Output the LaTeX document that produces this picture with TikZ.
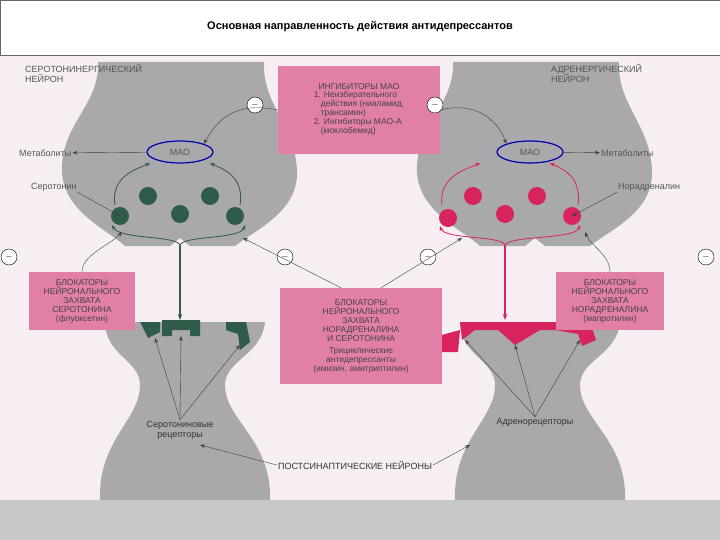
\documentclass[tikz,border=0pt]{standalone}
\usepackage{fontspec}
\setmainfont{Liberation Sans}
\usetikzlibrary{arrows.meta,shapes.geometric}
\definecolor{bg}{HTML}{F6EEF3}
\definecolor{neu}{HTML}{A9A9AB}
\definecolor{boxc}{HTML}{E27FA6}
\definecolor{grn}{HTML}{2F5B49}
\definecolor{pnk}{HTML}{D8245C}
\definecolor{lab}{HTML}{555555}
\tikzset{
 lbl/.style={font=\fontsize{9}{10}\selectfont, text=lab, align=center, inner sep=1pt},
 pbox/.style={fill=boxc, font=\fontsize{8.5}{9}\selectfont, text=lab!80!black, align=center, inner sep=3pt},
 minus/.style={circle, draw=black, fill=white, minimum size=16pt, inner sep=0pt, font=\small},
 ar/.style={-{Stealth[length=5pt]}, thin, black!75},
 mao/.style={ellipse, draw=blue!70!black, very thick, minimum width=66pt, minimum height=22pt, font=\fontsize{9}{10}\selectfont, text=lab},
}
\begin{document}
\begin{tikzpicture}[x=1pt,y=-1pt]
\useasboundingbox (0,0) rectangle (720,540);
\fill[bg] (0,0) rectangle (720,540);
\fill[black!22] (0,500) rectangle (720,540);
\draw[fill=white, draw=black!60] (0,0) rectangle (720,55);
\node[font=\bfseries\fontsize{11}{12}\selectfont] (title) at (360,27) {Основная направленность действия антидепрессантов};
\foreach \dx in {0,355}{
\begin{scope}[xshift=\dx]
\fill[neu] (98,62) .. controls (100,105) and (60,125) .. (62,172) .. controls (64,212) and (108,230) .. (125,246) -- (170,246) -- (180,238) -- (190,246) -- (235,246) .. controls (255,230) and (298,212) .. (297,172) .. controls (296,125) and (262,105) .. (264,62) -- cycle;
\fill[neu] (105,322) -- (265,322) .. controls (262,355) and (225,360) .. (225,385) .. controls (225,420) and (272,440) .. (270,500) -- (100,500) .. controls (98,440) and (140,420) .. (140,385) .. controls (140,360) and (105,355) .. (105,322) -- cycle;
\end{scope}}
% receptors left
\fill[grn] (140,322) -- (160,322) -- (160,332) -- (148,338) -- cycle;
\fill[grn] (162,320) -- (200,320) -- (200,336) -- (190,336) -- (190,330) -- (172,330) -- (172,336) -- (162,336) -- cycle;
\fill[grn] (226,322) -- (246,322) -- (250,342) -- (240,350) -- (238,334) -- (226,330) -- cycle;
% receptors right
\fill[pnk] (460,322) -- (590,322) -- (596,340) -- (582,346) -- (578,334) -- (555,330) -- (540,330) -- (515,345) -- (498,330) -- (475,330) -- (462,340) -- cycle;
\fill[pnk] (438,336) -- (460,330) -- (458,352) -- (440,352) -- cycle;
\node[mao] (maoL) at (180,152) {МАО};
\node[mao] (maoR) at (530,152) {МАО};
\foreach \n/\x/\y in {a/148/196,b/210/196,c/180/214,d/120/216,e/235/216}
  \fill[grn] (\x,\y) circle (9) coordinate (gL\n);
\foreach \n/\x/\y in {a/473/196,b/537/196,c/505/214,d/448/218,e/572/216}
  \fill[pnk] (\x,\y) circle (9) coordinate (gR\n);
\draw[grn, thick, -{Stealth[length=5pt]}] (180,246) .. controls (180,235) and (120,240) .. (112,225);
\draw[grn, thick, -{Stealth[length=5pt]}] (180,246) .. controls (180,235) and (240,240) .. (245,225);
\draw[grn, thick, -{Stealth[length=5pt]}] (115,205) .. controls (110,175) and (140,168) .. (150,163);
\draw[grn, thick, -{Stealth[length=5pt]}] (240,205) .. controls (245,175) and (220,168) .. (210,163);
\draw[pnk, thick, -{Stealth[length=5pt]}] (505,246) .. controls (505,235) and (445,240) .. (440,226);
\draw[pnk, thick, -{Stealth[length=5pt]}] (505,246) .. controls (505,235) and (575,240) .. (580,225);
\draw[pnk, thick, -{Stealth[length=5pt]}] (442,205) .. controls (438,175) and (470,168) .. (480,163);
\draw[pnk, thick, -{Stealth[length=5pt]}] (578,205) .. controls (582,175) and (560,168) .. (550,163);
\coordinate (sl) at (180,246); \coordinate (sr) at (505,246);
\coordinate (rl) at (180,320); \coordinate (rr) at (505,320);
\draw[grn, very thick, -{Stealth[length=6pt]}] (sl) -- (rl);
\draw[pnk, very thick, -{Stealth[length=6pt]}] (sr) -- (rr);
\node[lbl, align=left, anchor=north west] (l1) at (24,63) {СЕРОТОНИНЕРГИЧЕСКИЙ\\НЕЙРОН};
\node[lbl, align=left, anchor=north west] (l2) at (550,63) {АДРЕНЕРГИЧЕСКИЙ\\НЕЙРОН};
\node[lbl, anchor=west] (metL) at (18,153) {Метаболиты};
\node[lbl, anchor=west] (metR) at (600,153) {Метаболиты};
\node[lbl, anchor=west] (ser) at (30,187) {Серотонин};
\node[lbl, anchor=west] (nor) at (617,187) {Норадреналин};
\draw[ar] (maoL) -- (metL);
\draw[ar] (maoR) -- (metR);
\draw[ar] (ser.south east) -- (gLd);
\draw[ar] (nor.south west) -- (gRe);
\node[pbox, minimum width=162pt, minimum height=88pt] (mb) at (359,110) {ИНГИБИТОРЫ МАО\\[1pt]\begin{tabular}{@{}l@{}}1. Неизбирательного\\ \ \ \ действия (ниаламид,\\ \ \ \ трансамин)\\2. Ингибиторы МАО-А\\ \ \ \ (моклобемид)\end{tabular}};
\node[pbox, minimum width=162pt, minimum height=96pt] (cb) at (361,336) {БЛОКАТОРЫ\\НЕЙРОНАЛЬНОГО\\ЗАХВАТА\\НОРАДРЕНАЛИНА\\И СЕРОТОНИНА\\[3pt]Трициклические\\антидепрессанты\\(имизин, амитриптилин)};
\node[pbox, minimum width=106pt, minimum height=58pt] (lb) at (82,301) {БЛОКАТОРЫ\\НЕЙРОНАЛЬНОГО\\ЗАХВАТА\\СЕРОТОНИНА\\(флуоксетин)};
\node[pbox, minimum width=108pt, minimum height=58pt] (rb) at (610,301) {БЛОКАТОРЫ\\НЕЙРОНАЛЬНОГО\\ЗАХВАТА\\НОРАДРЕНАЛИНА\\(мапротилин)};
\node[minus] (m1) at (255,105) {$-$};
\node[minus] (m2) at (435,105) {$-$};
\node[minus] (m3) at (9,257) {$-$};
\node[minus] (m4) at (285,257) {$-$};
\node[minus] (m5) at (428,257) {$-$};
\node[minus] (m6) at (706,257) {$-$};
\draw[ar] (mb.west) .. controls (230,100) and (215,125) .. (maoL.north east);
\draw[ar] (mb.east) .. controls (480,100) and (500,125) .. (maoR.north west);
\coordinate (bl) at (243,238); \coordinate (br) at (462,238);
\draw[ar] (cb.north) ++(-20,0) -- (bl);
\draw[ar] (cb.north) ++(20,0) -- (br);
\draw[ar] (lb.north) .. controls (82,255) and (110,245) .. (122,232);
\draw[ar] (rb.north) .. controls (610,255) and (590,245) .. (585,232);
\node[lbl, text=black!80] (sr1) at (180,430) {Серотониновые\\рецепторы};
\node[lbl, text=black!80] (ar1) at (535,422) {Адренорецепторы};
\node[lbl, text=black!80] (post) at (355,465) {ПОСТСИНАПТИЧЕСКИЕ НЕЙРОНЫ};
\foreach \t in {(155,338),(181,336),(240,345)} \draw[ar] (sr1.north) -- \t;
\foreach \t in {(465,340),(515,345),(580,340)} \draw[ar] (ar1.north) -- \t;
\draw[ar] (post.west) -- (200,445);
\draw[ar] (post.east) -- (470,445);
\end{tikzpicture}
\end{document}
